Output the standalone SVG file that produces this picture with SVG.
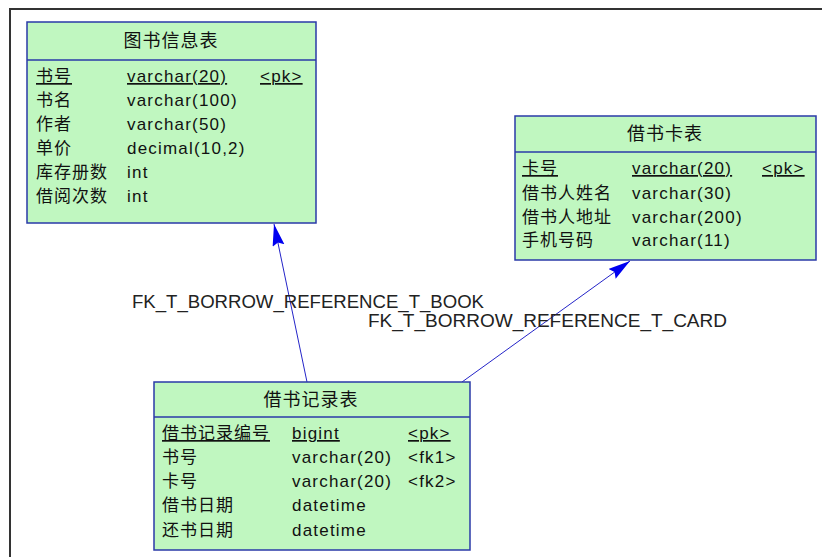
<svg xmlns="http://www.w3.org/2000/svg" width="822" height="557" viewBox="0 0 822 557">
<defs>
<style>
.tbl{fill:#C0F7C0;stroke:#2A3AA8;stroke-width:1.5}
.div{stroke:#2A3AA8;stroke-width:1.5}
text{font-family:"Liberation Sans","Noto Sans CJK SC",sans-serif;fill:#111}
.t{font-size:18px;letter-spacing:1px;text-anchor:middle}
.c{font-size:17px;letter-spacing:1px}
.l{font-size:17px;letter-spacing:1.2px}
.u{text-decoration:underline}
.lbl{font-size:18px;fill:#222}
.conn{stroke:#2424C8;stroke-width:1;fill:none}
</style>
<marker id="arr" markerUnits="userSpaceOnUse" markerWidth="24" markerHeight="14" refX="22" refY="6" orient="auto">
<path d="M0,0 L22,6 L0,12 L3,6 z" fill="#0000F0"/>
</marker>
</defs>
<rect x="0" y="0" width="822" height="557" fill="#fff"/>
<path d="M10,557 L10,9 L822,9" fill="none" stroke="#333" stroke-width="2"/>

<g id="connectors">
<line class="conn" x1="307" y1="382" x2="274" y2="224" marker-end="url(#arr)"/>
<line class="conn" x1="462" y1="382" x2="630" y2="261" marker-end="url(#arr)"/>
<text class="lbl" x="132" y="308" textLength="352" lengthAdjust="spacingAndGlyphs">FK_T_BORROW_REFERENCE_T_BOOK</text>
<text class="lbl" x="368" y="327" textLength="359" lengthAdjust="spacingAndGlyphs">FK_T_BORROW_REFERENCE_T_CARD</text>
</g>

<g id="t_book">
<rect class="tbl" x="27" y="22" width="289" height="201"/>
<line class="div" x1="27" y1="60" x2="316" y2="60"/>
<text class="t" x="171" y="47">图书信息表</text>
<text class="c u" x="36" y="82">书号</text>
<text class="l u" x="127" y="82">varchar(20)</text>
<text class="l u" x="260" y="82">&lt;pk&gt;</text>
<text class="c" x="36" y="106">书名</text>
<text class="l" x="127" y="106">varchar(100)</text>
<text class="c" x="36" y="130">作者</text>
<text class="l" x="127" y="130">varchar(50)</text>
<text class="c" x="36" y="154">单价</text>
<text class="l" x="127" y="154">decimal(10,2)</text>
<text class="c" x="36" y="178">库存册数</text>
<text class="l" x="127" y="178">int</text>
<text class="c" x="36" y="202">借阅次数</text>
<text class="l" x="127" y="202">int</text>
</g>

<g id="t_card">
<rect class="tbl" x="515" y="116" width="301" height="144"/>
<line class="div" x1="515" y1="152" x2="816" y2="152"/>
<text class="t" x="665" y="140">借书卡表</text>
<text class="c u" x="522" y="174">卡号</text>
<text class="l u" x="632" y="174">varchar(20)</text>
<text class="l u" x="762" y="174">&lt;pk&gt;</text>
<text class="c" x="522" y="199">借书人姓名</text>
<text class="l" x="632" y="199">varchar(30)</text>
<text class="c" x="522" y="223">借书人地址</text>
<text class="l" x="632" y="223">varchar(200)</text>
<text class="c" x="522" y="246">手机号码</text>
<text class="l" x="632" y="246">varchar(11)</text>
</g>

<g id="t_borrow">
<rect class="tbl" x="154" y="382" width="316" height="168"/>
<line class="div" x1="154" y1="417" x2="470" y2="417"/>
<text class="t" x="311" y="406">借书记录表</text>
<text class="c u" x="162" y="439">借书记录编号</text>
<text class="l u" x="292" y="439">bigint</text>
<text class="l u" x="408" y="439">&lt;pk&gt;</text>
<text class="c" x="162" y="463">书号</text>
<text class="l" x="292" y="463">varchar(20)</text>
<text class="l" x="408" y="463">&lt;fk1&gt;</text>
<text class="c" x="162" y="487">卡号</text>
<text class="l" x="292" y="487">varchar(20)</text>
<text class="l" x="408" y="487">&lt;fk2&gt;</text>
<text class="c" x="162" y="511">借书日期</text>
<text class="l" x="292" y="511">datetime</text>
<text class="c" x="162" y="536">还书日期</text>
<text class="l" x="292" y="536">datetime</text>
</g>
</svg>
